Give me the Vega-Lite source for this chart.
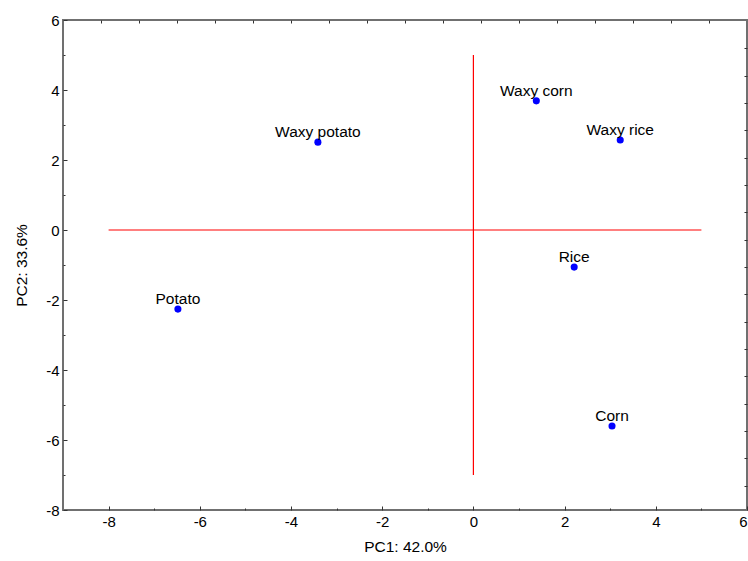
{
  "$schema": "https://vega.github.io/schema/vega-lite/v6.json",
  "autosize": "none",
  "width": 684,
  "height": 490,
  "padding": {"left": 63, "top": 20, "right": 1, "bottom": 51},
  "background": "white",
  "config": {
    "view": {"stroke": "#707070", "strokeWidth": 2},
    "axis": {
      "grid": false,
      "domain": false,
      "labelFont": "Liberation Sans",
      "labelFontSize": 15,
      "labelColor": "black",
      "titleFont": "Liberation Sans",
      "titleFontSize": 15.5,
      "titleFontWeight": "normal",
      "titleColor": "black",
      "tickColor": "#333333",
      "tickWidth": 1
    }
  },
  "datasets": {
    "pts": [
      {"name": "Waxy potato", "PC1": -3.41, "PC2": 2.51},
      {"name": "Potato", "PC1": -6.48, "PC2": -2.26},
      {"name": "Waxy corn", "PC1": 1.38, "PC2": 3.69},
      {"name": "Waxy rice", "PC1": 3.22, "PC2": 2.57},
      {"name": "Rice", "PC1": 2.21, "PC2": -1.06},
      {"name": "Corn", "PC1": 3.04, "PC2": -5.6}
    ],
    "lines": [
      {"x": -8, "x2": 5, "y": 0, "y2": 0},
      {"x": 0, "x2": 0, "y": -7, "y2": 5}
    ]
  },
  "resolve": {"axis": {"x": "independent", "y": "independent"}},
  "layer": [
    {
      "data": {"name": "lines"},
      "mark": {"type": "rule", "color": "#ff0000", "strokeWidth": 1.2},
      "encoding": {
        "x": {
          "field": "x", "type": "quantitative",
          "scale": {"domain": [-9, 6], "nice": false, "zero": false},
          "axis": {
            "orient": "bottom",
            "title": "PC1: 42.0%",
            "values": [-8, -7, -6, -5, -4, -3, -2, -1, 0, 1, 2, 3, 4, 5, 6],
            "labelExpr": "datum.value % 2 == 0 ? '' + datum.value : ''",
            "tickSize": {"condition": {"test": "datum.value % 2 == 0", "value": -4}, "value": -2},
            "labelPadding": 8,
            "titlePadding": 10
          }
        },
        "x2": {"field": "x2"},
        "y": {
          "field": "y", "type": "quantitative",
          "scale": {"domain": [-8, 6], "nice": false, "zero": false},
          "axis": {
            "orient": "left",
            "title": "PC2: 33.6%",
            "values": [-8, -7, -6, -5, -4, -3, -2, -1, 0, 1, 2, 3, 4, 5, 6],
            "labelExpr": "datum.value % 2 == 0 ? '' + datum.value : ''",
            "tickSize": {"condition": {"test": "datum.value % 2 == 0", "value": -4}, "value": -2},
            "labelPadding": 8,
            "titlePadding": 16
          }
        },
        "y2": {"field": "y2"}
      }
    },
    {
      "data": {"name": "pts"},
      "mark": {"type": "circle", "color": "#0000ff", "opacity": 1, "size": 50},
      "encoding": {
        "x": {
          "field": "PC1", "type": "quantitative",
          "axis": {
            "orient": "top", "title": null, "labels": false,
            "values": [-8.176, -7.342, -6.508, -5.674, -4.841, -4.007, -3.173, -2.339, -1.505, -0.671, 0.163, 0.996, 1.83, 2.664, 3.498, 4.332, 5.166],
            "tickSize": -3
          }
        },
        "y": {
          "field": "PC2", "type": "quantitative",
          "axis": {
            "orient": "right", "title": null, "labels": false,
            "values": [5.191, 4.41, 3.629, 2.848, 2.067, 1.286, 0.505, -0.276, -1.057, -1.838, -2.619, -3.4, -4.181, -4.962, -5.743, -6.524, -7.305],
            "tickSize": -3
          }
        }
      }
    },
    {
      "data": {"name": "pts"},
      "mark": {"type": "text", "font": "Liberation Sans", "fontSize": 15.5, "color": "black", "dy": -10, "baseline": "middle", "align": "center"},
      "encoding": {
        "x": {"field": "PC1", "type": "quantitative", "axis": null},
        "y": {"field": "PC2", "type": "quantitative", "axis": null},
        "text": {"field": "name"}
      }
    }
  ]
}
